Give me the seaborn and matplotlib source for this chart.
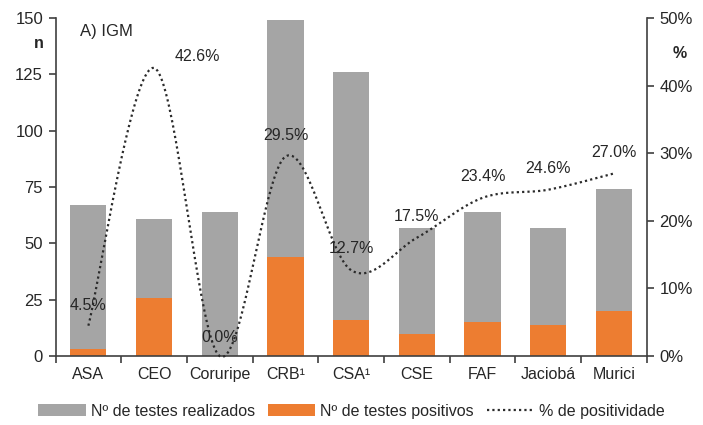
import numpy as np
import pandas as pd
import matplotlib
matplotlib.use("Agg")
import matplotlib.pyplot as plt
import seaborn as sns
from matplotlib.patches import Patch
from matplotlib.lines import Line2D

categories = ["ASA", "CEO", "Coruripe", "CRB¹", "CSA¹", "CSE", "FAF", "Jaciobá", "Murici"]
realizados = [67, 61, 64, 149, 126, 57, 64, 57, 74]
positivos = [3, 26, 0, 44, 16, 10, 15, 14, 20]
positividade = [4.5, 42.6, 0.0, 29.5, 12.7, 17.5, 23.4, 24.6, 27.0]
pct_labels = ["4.5%", "42.6%", "0.0%", "29.5%", "12.7%", "17.5%", "23.4%", "24.6%", "27.0%"]

sns.set_theme(style="white")
plt.rcParams["font.family"] = ["Liberation Sans", "DejaVu Sans"]

GREY = "#A5A5A5"
ORANGE = "#ED7D31"
TXT = "#262626"

fig = plt.figure(figsize=(7.03, 4.25), dpi=100)
ax = fig.add_axes([0.079, 0.162, 0.841, 0.796])

df = pd.DataFrame({"cat": categories, "real": realizados, "pos": positivos})
sns.barplot(data=df, x="cat", y="real", color=GREY, width=0.55, ax=ax,
            saturation=1, order=categories, edgecolor="none", linewidth=0)
sns.barplot(data=df, x="cat", y="pos", color=ORANGE, width=0.55, ax=ax,
            saturation=1, order=categories, edgecolor="none", linewidth=0)

ax.set_xlim(-0.5, len(categories) - 0.5)
ax.set_ylim(0, 150)
ax.set_yticks([0, 25, 50, 75, 100, 125, 150])
ax.set_xlabel("")
ax.set_ylabel("")
for s in ["top", "right"]:
    ax.spines[s].set_visible(False)
for s in ["left", "bottom"]:
    ax.spines[s].set_color("#404040")
    ax.spines[s].set_linewidth(1.2)
ax.tick_params(axis="y", which="major", direction="out", length=5, width=1.2,
               color="#404040", labelsize=12, labelcolor=TXT, left=True, pad=4)
ax.tick_params(axis="x", which="major", length=0, labelsize=11.5, labelcolor=TXT, pad=8)
ax.set_xticks(np.arange(-0.5, len(categories), 1.0), minor=True)
ax.tick_params(axis="x", which="minor", direction="out", length=5, width=1.2,
               color="#404040", bottom=True)

ax2 = ax.twinx()
ax2.set_ylim(0, 50)
ax2.set_yticks([0, 10, 20, 30, 40, 50])
ax2.set_yticklabels([f"{v}%" for v in [0, 10, 20, 30, 40, 50]])
for s in ["top", "left", "bottom"]:
    ax2.spines[s].set_visible(False)
ax2.spines["right"].set_color("#404040")
ax2.spines["right"].set_linewidth(1.2)
ax2.tick_params(axis="y", direction="out", length=5, width=1.2, color="#404040",
                labelsize=12, labelcolor=TXT, right=True, pad=4)
ax2.grid(False)
ax.grid(False)

# Smoothed (Excel-style Catmull-Rom Bezier) rendering of the percentage line
xs = np.arange(len(positividade), dtype=float)
ys = np.array(positividade, dtype=float)
px = np.concatenate([[xs[0]], xs, [xs[-1]]])
py = np.concatenate([[ys[0]], ys, [ys[-1]]])
cx, cy = [], []
t = np.linspace(0, 1, 40)
for i in range(len(xs) - 1):
    p0 = np.array([px[i], py[i]])
    p1 = np.array([px[i + 1], py[i + 1]])
    p2 = np.array([px[i + 2], py[i + 2]])
    p3 = np.array([px[i + 3], py[i + 3]])
    c1 = p1 + (p2 - p0) / 6.0
    c2 = p2 - (p3 - p1) / 6.0
    b = ((1 - t) ** 3)[:, None] * p1 + (3 * (1 - t) ** 2 * t)[:, None] * c1 \
        + (3 * (1 - t) * t ** 2)[:, None] * c2 + (t ** 3)[:, None] * p2
    cx.extend(b[:, 0]); cy.extend(b[:, 1])
ax2.plot(cx, cy, color="#2b2b2b", linewidth=1.6, linestyle=(0, (1, 1.4)),
         clip_on=False)

offsets = [(0, 9), (31, 3), (0, 8), (0, 10), (0, 10), (0, 10), (0, 10), (0, 10), (0, 10)]
for i, (lab, off) in enumerate(zip(pct_labels, offsets)):
    ax2.annotate(lab, (xs[i], ys[i]), xytext=off, textcoords="offset points",
                 ha="center", va="bottom", fontsize=11.5, color=TXT)

fig.text(0.114, 0.925, "A) IGM", fontsize=12, color=TXT, ha="left", va="center")
fig.text(0.055, 0.897, "n", fontsize=11.5, color=TXT, fontweight="bold", ha="center", va="center")
fig.text(0.967, 0.875, "%", fontsize=11.5, color=TXT, fontweight="bold", ha="center", va="center")

handles = [Patch(facecolor=GREY, edgecolor="none"),
           Patch(facecolor=ORANGE, edgecolor="none"),
           Line2D([0], [0], color="#2b2b2b", linewidth=1.6, linestyle=(0, (1, 1.4)))]
labels = ["Nº de testes realizados", "Nº de testes positivos", "% de positividade"]
fig.legend(handles, labels, loc="center", bbox_to_anchor=(0.5, 0.032), ncol=3,
           frameon=False, fontsize=11.5, handlelength=3.0, handleheight=0.8,
           handletextpad=0.3, columnspacing=0.8, labelcolor=TXT)

fig.savefig("out.png", dpi=100)
